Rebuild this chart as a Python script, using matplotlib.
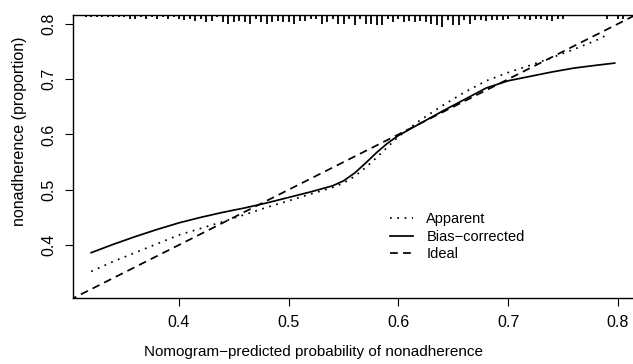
import numpy as np
import matplotlib
matplotlib.use("Agg")
import matplotlib.pyplot as plt

plt.rcParams["font.family"] = ["Liberation Sans", "DejaVu Sans"]

# calibration curves (predicted vs observed nonadherence)
pred_bias = [0.32, 0.34, 0.36, 0.38, 0.40, 0.42, 0.44, 0.46, 0.48, 0.50, 0.52, 0.54,
             0.55, 0.56, 0.57, 0.58, 0.59, 0.60, 0.62, 0.64, 0.66, 0.68, 0.70, 0.72,
             0.74, 0.76, 0.78, 0.797]
obs_bias = [0.386, 0.401, 0.415, 0.428, 0.440, 0.450, 0.459, 0.467, 0.476, 0.486, 0.496, 0.507,
            0.516, 0.530, 0.548, 0.567, 0.584, 0.598, 0.620, 0.642, 0.663, 0.684, 0.697, 0.705,
            0.713, 0.720, 0.725, 0.729]

pred_app = [0.32, 0.34, 0.36, 0.38, 0.40, 0.42, 0.44, 0.46, 0.48, 0.50, 0.52, 0.54,
            0.55, 0.56, 0.57, 0.58, 0.59, 0.60, 0.62, 0.64, 0.66, 0.68, 0.70, 0.72,
            0.74, 0.76, 0.78, 0.79]
obs_app = [0.352, 0.370, 0.386, 0.402, 0.418, 0.430, 0.442, 0.455, 0.468, 0.480, 0.492, 0.504,
           0.512, 0.524, 0.540, 0.558, 0.577, 0.596, 0.626, 0.652, 0.676, 0.697, 0.712, 0.725,
           0.739, 0.754, 0.770, 0.780]

ideal = [0.30, 0.82]

# histogram of predicted probabilities (bins of 0.005 starting at 0.315)
rug_start = 0.315
rug_width = 0.005
rug_counts = [1, 1, 1, 1, 1, 1, 1, 1, 2, 2,
              1, 2, 1, 2, 1, 2, 1, 2, 3, 2,
              4, 2, 5, 4, 1, 5, 6, 5, 4, 5,
              6, 2, 5, 6, 5, 4, 5, 5, 6, 4,
              4, 2, 2, 6, 5, 2, 6, 6, 2, 7,
              2, 6, 6, 7, 7, 2, 5, 2, 5, 4,
              5, 4, 5, 6, 7, 9, 3, 7, 7, 3,
              6, 3, 3, 4, 3, 3, 3, 2, 0, 2,
              2, 3, 2, 2, 3, 4, 2, 2, 0, 0,
              0, 0, 0, 0, 0, 2, 0, 2, 2]

xticks = [0.4, 0.5, 0.6, 0.7, 0.8]
yticks = [0.4, 0.5, 0.6, 0.7, 0.8]

fig = plt.figure(figsize=(6.33, 3.64), dpi=100)
ax = fig.add_axes([73 / 633, 66 / 364, 560 / 633, 283 / 364])
ax.set_xlim(0.3034, 0.8137)
ax.set_ylim(0.304, 0.816)

lw = 1.25
ax.plot(pred_app, obs_app, color="black", lw=lw, linestyle=(0, (1, 3.2)),
        label="Apparent")
ax.plot(pred_bias, obs_bias, color="black", lw=lw, label="Bias\u2212corrected")
ax.plot(ideal, ideal, color="black", lw=lw, linestyle=(0, (4.5, 3)), label="Ideal")

# rug of predictions hanging from the top border (tick length in pixels)
counts = np.array(rug_counts, dtype=float)
rug_x = rug_start + rug_width * np.arange(len(counts))
keep = counts > 0
h_px = 1.0 + 1.25 * counts[keep]
ax.vlines(rug_x[keep], 1 - h_px / 283, 1, color="black", lw=1.3,
          transform=ax.get_xaxis_transform(), clip_on=False)

for s in ["left", "bottom", "top"]:
    ax.spines[s].set_linewidth(1.0)
ax.spines["right"].set_visible(False)

ax.set_xticks(xticks)
ax.set_xticklabels([f"{t:.1f}" for t in xticks])
ax.set_yticks(yticks)
ax.set_yticklabels([f"{t:.1f}" for t in yticks], rotation=90, va="center")
ax.tick_params(direction="out", length=6, width=0.8, labelsize=11.5, pad=6)

fig.text(314 / 633, 1 - 352 / 364,
         "Nomogram\u2212predicted probability of nonadherence",
         ha="center", va="center", fontsize=11)
fig.text(20 / 633, 1 - 131 / 364, "nonadherence (proportion)",
         rotation=90, ha="center", va="center", fontsize=11.5)

ax.legend(loc="upper left", bbox_to_anchor=(390 / 633, 1 - 212 / 364),
          bbox_transform=fig.transFigure, frameon=False, fontsize=10.5,
          handlelength=1.6, handletextpad=0.9, labelspacing=0.25,
          borderpad=0, borderaxespad=0)

fig.savefig("out.png", dpi=100)
